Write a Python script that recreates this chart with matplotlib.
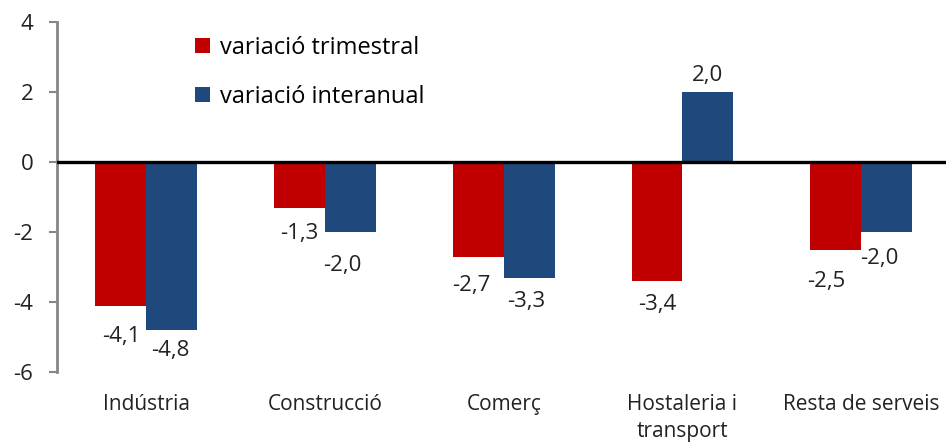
import matplotlib.pyplot as plt
import numpy as np

CATEGORIES = ["Indústria", "Construcció", "Comerç", "Hostaleria i\ntransport", "Resta de serveis"]
TRIMESTRAL = [-4.1, -1.3, -2.7, -3.4, -2.5]
INTERANUAL = [-4.8, -2.0, -3.3, 2.0, -2.0]
SERIES_NAMES = ["variació trimestral", "variació interanual"]

RED = "#C00000"
BLUE = "#1F497D"
GRAY = "#868686"

# label offsets in points (dx, dy) relative to bar end, as placed in the original
RED_OFFSETS = [(0, -22), (0, -19), (-5, -21), (0, -17), (-7, -23)]
BLUE_OFFSETS = [(-1, -15), (-6, -24), (-2, -17), (0, 12), (-5, -19)]

plt.rcParams["font.family"] = ["Open Sans", "DejaVu Sans"]

W, H = 946, 443
fig = plt.figure(figsize=(W / 100, H / 100), dpi=100)
ax = fig.add_axes([57 / W, 1 - 372 / H, 893.5 / W, 350 / H])

x = np.arange(len(CATEGORIES))
bw = 0.285
bars_r = ax.bar(x - bw / 2, TRIMESTRAL, bw, color=RED, label=SERIES_NAMES[0])
bars_b = ax.bar(x + bw / 2, INTERANUAL, bw, color=BLUE, label=SERIES_NAMES[1])

ax.axhline(0, color="black", lw=2.4, zorder=5)

for bars, vals, offs in [(bars_r, TRIMESTRAL, RED_OFFSETS), (bars_b, INTERANUAL, BLUE_OFFSETS)]:
    for b, v, (dx, dy) in zip(bars, vals, offs):
        ax.annotate(
            f"{v:.1f}".replace(".", ","),
            (b.get_x() + b.get_width() / 2, v),
            xytext=(dx, dy),
            textcoords="offset points",
            ha="center",
            va="center",
            fontsize=16,
            color="#222222",
        )

ax.set_xlim(-0.5, len(CATEGORIES) - 0.5)
ax.set_ylim(-6, 4)
ax.set_yticks([-6, -4, -2, 0, 2, 4])
ax.set_yticklabels([str(t) for t in [-6, -4, -2, 0, 2, 4]])
ax.set_xticks(x)
ax.set_xticklabels(CATEGORIES, fontsize=15, linespacing=1.35, color="#222222")

for s in ["top", "right", "bottom"]:
    ax.spines[s].set_visible(False)
ax.spines["left"].set_color(GRAY)
ax.spines["left"].set_linewidth(2)
ax.tick_params(axis="y", direction="out", length=6, width=1.5, color=GRAY,
               labelsize=16, pad=11, labelcolor="#222222")
ax.tick_params(axis="x", length=0, pad=16)

ax.legend(
    loc="upper left",
    bbox_to_anchor=(0.155, 0.96),
    frameon=False,
    fontsize=17,
    handlelength=0.6,
    handleheight=0.6,
    handletextpad=0.45,
    labelspacing=1.05,
    borderpad=0,
    borderaxespad=0,
)

fig.savefig("out.png", dpi=100)
